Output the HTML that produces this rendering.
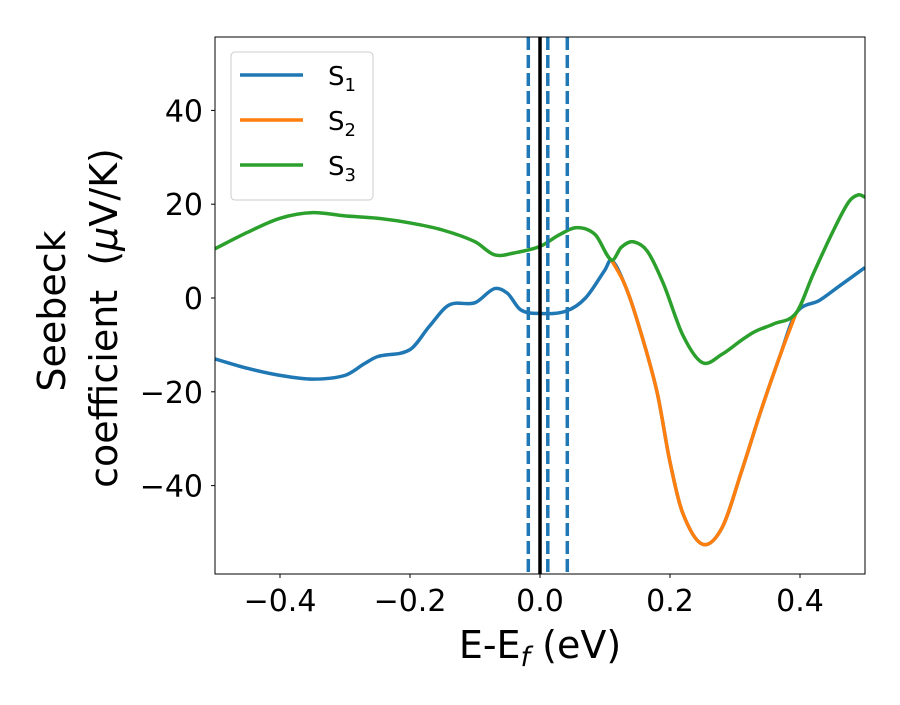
<!DOCTYPE html>
<html><head><meta charset="utf-8"><style>
body{margin:0;background:#fff}
svg{font-family:"DejaVu Sans","Liberation Sans",sans-serif}
</style></head><body>
<svg id="chart" width="900" height="700">
<rect width="900" height="700" fill="#fff"/>
<g id="plot"></g>
</svg>
<script>
const x1 = [-0.5,-0.45,-0.4,-0.35,-0.3,-0.27,-0.25,-0.2,-0.17,-0.14,-0.1,-0.07,-0.05,-0.03,0,0.04,0.07,0.1,0.11,0.13,0.15,0.18,0.2,0.22,0.25,0.28,0.31,0.34,0.37,0.394,0.43,0.46,0.5];
const s1 = [-13,-15,-16.5,-17.3,-16.5,-14,-12.5,-11,-6,-1.5,-1,2,1,-2.5,-3.3,-2.8,0,6,8.1,3,-5,-20,-35,-46,-52.5,-49,-37,-24,-12,-3.2,-0.5,2.5,6.5];
const x2 = [0.11,0.13,0.15,0.18,0.2,0.22,0.25,0.28,0.31,0.34,0.37,0.394];
const s2 = [8.1,3,-5,-20,-35,-46,-52.5,-49,-37,-24,-12,-3.2];
const x3 = [-0.5,-0.45,-0.4,-0.35,-0.3,-0.25,-0.2,-0.15,-0.1,-0.07,-0.04,0,0.03,0.057,0.085,0.11,0.125,0.143,0.165,0.19,0.22,0.25,0.28,0.31,0.33,0.36,0.394,0.42,0.45,0.475,0.49,0.5];
const s3 = [10.5,14,17,18.2,17.5,17,16,14.5,12,9.2,9.6,11,13.5,15,13.5,8.1,10.8,12,10,3,-8,-13.8,-12,-9,-7.2,-5.5,-3.2,5,14,20.5,22,21.5];
const xTicks = [-0.4,-0.2,0.0,0.2,0.4];
const xTickLabels = ["−0.4","−0.2","0.0","0.2","0.4"];
const yTicks = [40,20,0,-20,-40];
const yTickLabels = ["40","20","0","−20","−40"];
const dashedLines = [-0.018,0.012,0.042];

const L=215,R=865,T=37,B=574;
const X=v=>540+v*650;
const Y=v=>298-v*4.69;
const NS="http://www.w3.org/2000/svg";
const g=document.getElementById('plot');
function mk(tag,attrs,parent){const e=document.createElementNS(NS,tag);for(const k in attrs)e.setAttribute(k,attrs[k]);(parent||g).appendChild(e);return e;}
function pathFor(xs,ys){
  const n=xs.length;
  const m=xs.map((x,i)=>{
    if(i===0)return (ys[1]-ys[0])/(xs[1]-xs[0]);
    if(i===n-1)return (ys[n-1]-ys[n-2])/(xs[n-1]-xs[n-2]);
    return (ys[i+1]-ys[i-1])/(xs[i+1]-xs[i-1]);
  });
  let d=`M${X(xs[0])},${Y(ys[0])}`;
  for(let i=0;i<n-1;i++){
    const h=xs[i+1]-xs[i];
    const c1x=xs[i]+h/3,c1y=ys[i]+m[i]*h/3;
    const c2x=xs[i+1]-h/3,c2y=ys[i+1]-m[i+1]*h/3;
    d+=`C${X(c1x)},${Y(c1y)} ${X(c2x)},${Y(c2y)} ${X(xs[i+1])},${Y(ys[i+1])}`;
  }
  return d;
}
const clip=mk('clipPath',{id:'c'});mk('rect',{x:L,y:T,width:R-L,height:B-T},clip);
const series=mk('g',{'clip-path':'url(#c)'});
let e;
e=mk('path',{d:pathFor(x1,s1),fill:'none',stroke:'#1f77b4','stroke-width':3.5},series);


e=mk('path',{d:pathFor(x2,s2),fill:'none',stroke:'#ff7f0e','stroke-width':3.5},series);


e=mk('path',{d:pathFor(x3,s3),fill:'none',stroke:'#2ca02c','stroke-width':3.5},series);


dashedLines.forEach(v=>{
  const l=mk('line',{x1:X(v),x2:X(v),y1:T,y2:B,stroke:'#1f77b4','stroke-width':3.5,'stroke-dasharray':'13,5'});
  
  
});
e=mk('line',{x1:X(0),x2:X(0),y1:T,y2:B,stroke:'#000','stroke-width':3.5});


e=mk('rect',{x:L,y:T,width:R-L,height:B-T,fill:'none',stroke:'#000','stroke-width':1});


xTicks.forEach((v,i)=>{
  mk('line',{x1:X(v),x2:X(v),y1:B,y2:B+4,stroke:'#000'});
  const t=mk('text',{x:X(v),y:611,'text-anchor':'middle','font-size':30});t.textContent=xTickLabels[i];
  
  
});
yTicks.forEach((v,i)=>{
  mk('line',{x1:L-4,x2:L,y1:Y(v),y2:Y(v),stroke:'#000'});
  const t=mk('text',{x:L-12,y:Y(v)+11,'text-anchor':'end','font-size':30});t.textContent=yTickLabels[i];
  
  
});
</script>
<svg style="position:absolute;left:0;top:0" width="900" height="700">
<text x="540" y="658" text-anchor="middle" font-size="38" font-family="DejaVu Sans,sans-serif">E-E<tspan font-style="italic" font-size="27" dy="8">f</tspan><tspan dy="-8"> (eV)</tspan></text>
<g font-size="38" font-family="DejaVu Sans,sans-serif">
<text transform="translate(65,311) rotate(-90)" text-anchor="middle">Seebeck</text>
<text transform="translate(117,318) rotate(-90)" text-anchor="middle">coefficient&#160;&#160;(<tspan font-style="italic">μ</tspan>V/K)</text>
</g>
<g font-family="DejaVu Sans,sans-serif" font-size="26">
<rect x="231" y="52" width="142" height="148" rx="4" fill="#fff" fill-opacity="0.8" stroke="#ccc"/>
<line x1="240" x2="303" y1="75" y2="75" stroke="#1f77b4" stroke-width="3.5"/>
<text x="328" y="85">S<tspan font-size="18" dy="6">1</tspan></text>
<line x1="240" x2="303" y1="120" y2="120" stroke="#ff7f0e" stroke-width="3.5"/>
<text x="328" y="130">S<tspan font-size="18" dy="6">2</tspan></text>
<line x1="240" x2="303" y1="165" y2="165" stroke="#2ca02c" stroke-width="3.5"/>
<text x="328" y="175">S<tspan font-size="18" dy="6">3</tspan></text>
</g>
</svg>
</body></html>
